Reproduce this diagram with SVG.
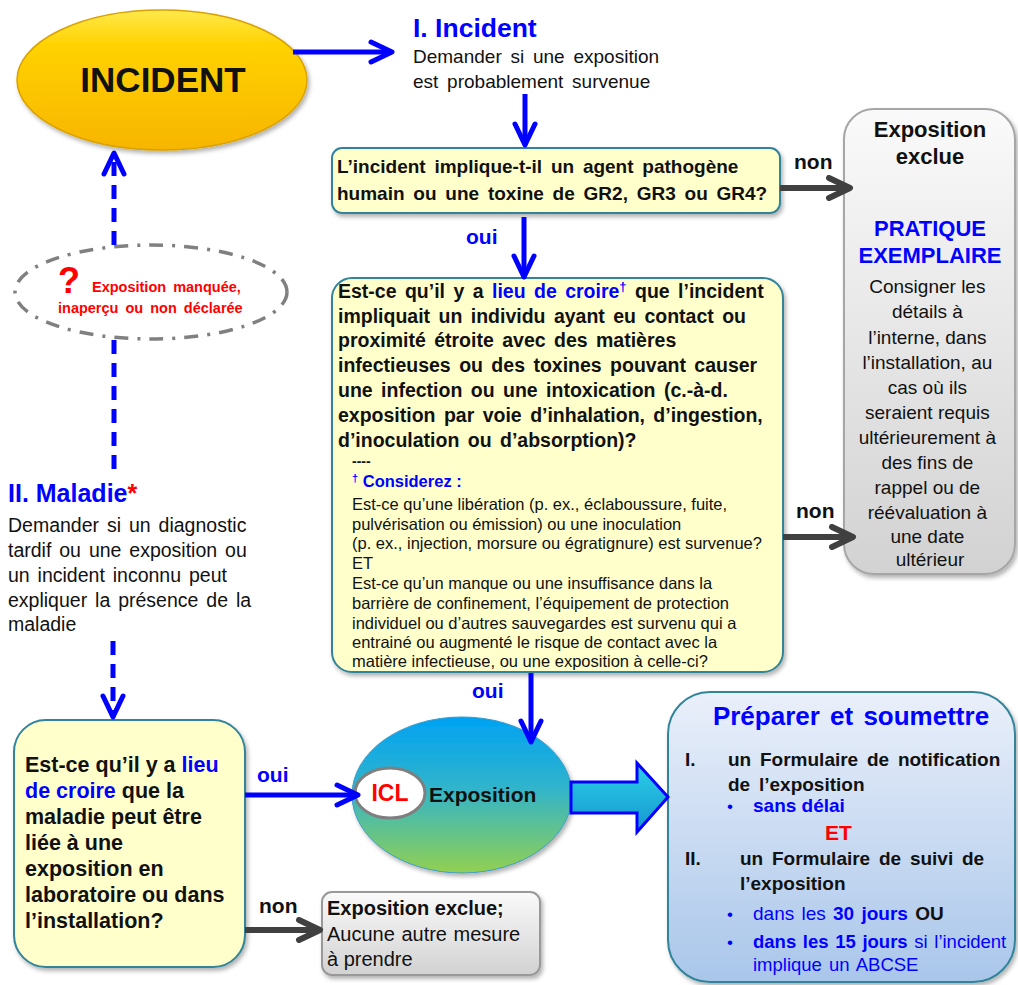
<svg xmlns="http://www.w3.org/2000/svg" width="1018" height="985" viewBox="0 0 1018 985">
<defs>
<style>
text{font-family:"Liberation Sans",Arial,sans-serif;fill:#111}
.b{font-weight:bold}
.blue{fill:#0000FF}
.red{fill:#FF0000}
.yb{fill:#FFFFCC;stroke:#31849B;stroke-width:2}
.conB{stroke:#0000FF;stroke-width:5;fill:none}
.conG{stroke:#404040;stroke-width:6;fill:none}
.dash{stroke-dasharray:14 9}
</style>
<linearGradient id="gInc" x1="0" y1="0" x2="0" y2="1">
<stop offset="0" stop-color="#FFE94A"/><stop offset="0.25" stop-color="#FFD200"/><stop offset="1" stop-color="#F7B500"/>
</linearGradient>
<linearGradient id="gExp" x1="0" y1="0" x2="0" y2="1">
<stop offset="0" stop-color="#00A2F2"/><stop offset="0.45" stop-color="#30B4CC"/><stop offset="1" stop-color="#92D050"/>
</linearGradient>
<linearGradient id="gGray" x1="0" y1="0" x2="0" y2="1">
<stop offset="0" stop-color="#FAFAFA"/><stop offset="1" stop-color="#D2D2D2"/>
</linearGradient>
<linearGradient id="gBlue" x1="0" y1="0" x2="0" y2="1">
<stop offset="0" stop-color="#EAF0FA"/><stop offset="1" stop-color="#A9C6EA"/>
</linearGradient>
<linearGradient id="gArr" x1="0" y1="0" x2="0" y2="1">
<stop offset="0" stop-color="#2AD0E8"/><stop offset="1" stop-color="#1696CF"/>
</linearGradient>
<filter id="sh" x="-10%" y="-10%" width="125%" height="125%">
<feDropShadow dx="2" dy="3" stdDeviation="2" flood-color="#000" flood-opacity="0.3"/>
</filter>
<marker id="mB" viewBox="0 0 30 26" refX="26" refY="13" markerWidth="30" markerHeight="26" markerUnits="userSpaceOnUse" orient="auto">
<path d="M5,3 L26,13 L5,23" fill="none" stroke="#0000FF" stroke-width="5" stroke-linecap="round" stroke-linejoin="round" stroke-dasharray="none"/>
</marker>
<marker id="mG" viewBox="0 0 30 26" refX="26" refY="13" markerWidth="30" markerHeight="26" markerUnits="userSpaceOnUse" orient="auto">
<path d="M5,3 L26,13 L5,23" fill="none" stroke="#404040" stroke-width="6" stroke-linecap="round" stroke-linejoin="round"/>
</marker>
</defs>
<rect width="1018" height="985" fill="#FFFFFF"/>

<g id="incident">
<ellipse cx="162" cy="80" rx="145" ry="70" fill="url(#gInc)" stroke="#D9A200" stroke-width="1.5" filter="url(#sh)"/>
<text x="163" y="92" class="b" font-size="35" text-anchor="middle">INCIDENT</text>
</g>

<g id="incident-label">
<text x="413" y="37" class="b blue" font-size="26.5">I. Incident</text>
<text x="413" y="63" font-size="19" word-spacing="3.5">Demander si une exposition</text>
<text x="413" y="88" font-size="19" word-spacing="3.5">est probablement survenue</text>
</g>

<g id="q1">
<rect x="332" y="148" width="448" height="65" rx="10" class="yb" filter="url(#sh)"/>
<text class="b" font-size="19" word-spacing="3.5"><tspan x="337" y="173">L’incident implique-t-il un agent pathogène</tspan><tspan x="337" y="200">humain ou une toxine de GR2, GR3 ou GR4?</tspan></text>
</g>

<g id="q2">
<rect x="332" y="278" width="451" height="394" rx="20" class="yb" filter="url(#sh)"/>
<text class="b" font-size="19.5" word-spacing="3">
<tspan x="338" y="298">Est-ce qu’il y a <tspan class="blue">lieu de croire</tspan><tspan class="blue" font-size="13" dy="-7">†</tspan><tspan dy="7"> que l’incident</tspan></tspan>
<tspan x="338" y="323">impliquait un individu ayant eu contact ou</tspan>
<tspan x="338" y="347">proximité étroite avec des matières</tspan>
<tspan x="338" y="372">infectieuses ou des toxines pouvant causer</tspan>
<tspan x="338" y="397">une infection ou une intoxication (c.-à-d.</tspan>
<tspan x="338" y="422">exposition par voie d’inhalation, d’ingestion,</tspan>
<tspan x="338" y="447">d’inoculation ou d’absorption)?</tspan>
</text>
<text x="352" y="466" class="b" font-size="14">----</text>
<text x="352" y="487" class="b blue" font-size="16.5"><tspan font-size="11" dy="-5">†</tspan><tspan dy="5"> Considerez :</tspan></text>
<text font-size="16.5">
<tspan x="352" y="510">Est-ce qu’une libération (p. ex., éclaboussure, fuite,</tspan>
<tspan x="352" y="530">pulvérisation ou émission) ou une inoculation</tspan>
<tspan x="352" y="549">(p. ex., injection, morsure ou égratignure) est survenue?</tspan>
<tspan x="352" y="569">ET</tspan>
<tspan x="352" y="589">Est-ce qu’un manque ou une insuffisance dans la</tspan>
<tspan x="352" y="609">barrière de confinement, l’équipement de protection</tspan>
<tspan x="352" y="629">individuel ou d’autres sauvegardes est survenu qui a</tspan>
<tspan x="352" y="648">entrainé ou augmenté le risque de contact avec la</tspan>
<tspan x="352" y="667">matière infectieuse, ou une exposition à celle-ci?</tspan>
</text>
</g>

<g id="excluded">
<rect x="844" y="109" width="171" height="465" rx="30" fill="url(#gGray)" stroke="#A6A6A6" stroke-width="2" filter="url(#sh)"/>
<g text-anchor="middle">
<text x="930" y="137" class="b" font-size="22">Exposition</text>
<text x="930" y="164" class="b" font-size="22">exclue</text>
<text x="930" y="236" class="b blue" font-size="22">PRATIQUE</text>
<text x="930" y="263" class="b blue" font-size="22">EXEMPLAIRE</text>
<text font-size="19">
<tspan x="930" y="293">Consigner les</tspan>
<tspan x="930" y="318">détails à</tspan>
<tspan x="930" y="344">l’interne, dans</tspan>
<tspan x="930" y="369">l’installation, au</tspan>
<tspan x="930" y="394">cas où ils</tspan>
<tspan x="930" y="419">seraient requis</tspan>
<tspan x="930" y="444">ultérieurement à</tspan>
<tspan x="930" y="469">des fins de</tspan>
<tspan x="930" y="494">rappel ou de</tspan>
<tspan x="930" y="519">réévaluation à</tspan>
<tspan x="930" y="543">une date</tspan>
<tspan x="930" y="566">ultérieur</tspan>
</text>
</g>
</g>

<g id="missed">
<ellipse cx="151" cy="292" rx="136" ry="47" fill="#FFFFFF" stroke="#808080" stroke-width="3.5" stroke-dasharray="14 9 3 9"/>
<text x="58" y="293" class="b red" font-size="36">?</text>
<text x="92" y="292" class="b red" font-size="14.5" word-spacing="3">Exposition manquée,</text>
<text x="58" y="313" class="b red" font-size="14.5" word-spacing="3">inaperçu ou non déclarée</text>
</g>

<g id="maladie-label">
<text x="8" y="502" class="b blue" font-size="25">II. Maladie<tspan class="red">*</tspan></text>
<text font-size="19.5" word-spacing="2.5">
<tspan x="8" y="532">Demander si un diagnostic</tspan>
<tspan x="8" y="557">tardif ou une exposition ou</tspan>
<tspan x="8" y="582">un incident inconnu peut</tspan>
<tspan x="8" y="607">expliquer la présence de la</tspan>
<tspan x="8" y="631">maladie</tspan>
</text>
</g>

<g id="q3">
<rect x="14" y="720" width="231" height="247" rx="32" class="yb" filter="url(#sh)"/>
<text class="b" font-size="21.5">
<tspan x="25" y="772">Est-ce qu’il y a <tspan class="blue">lieu</tspan></tspan>
<tspan x="25" y="798"><tspan class="blue">de croire</tspan> que la</tspan>
<tspan x="25" y="824">maladie peut être</tspan>
<tspan x="25" y="850">liée à une</tspan>
<tspan x="25" y="876">exposition en</tspan>
<tspan x="25" y="902">laboratoire ou dans</tspan>
<tspan x="25" y="928">l’installation?</tspan>
</text>
</g>

<g id="exposition">
<ellipse cx="462" cy="795" rx="110" ry="78" fill="url(#gExp)" stroke="#3C9BC8" stroke-width="1" filter="url(#sh)"/>
<ellipse cx="390" cy="793" rx="35" ry="25" fill="#FFFFFF" stroke="#7F7F7F" stroke-width="3"/>
<text x="390" y="801" class="b red" font-size="23" text-anchor="middle">ICL</text>
<text x="429" y="802" class="b" font-size="21">Exposition</text>
</g>

<g id="excluded2">
<rect x="322" y="892" width="218" height="83" rx="10" fill="url(#gGray)" stroke="#999999" stroke-width="2" filter="url(#sh)"/>
<text x="327" y="915" class="b" font-size="20">Exposition exclue;</text>
<text x="327" y="941" font-size="20" word-spacing="1">Aucune autre mesure</text>
<text x="327" y="966" font-size="20">à prendre</text>
</g>

<g id="submit">
<rect x="668" y="692" width="347" height="290" rx="42" fill="url(#gBlue)" stroke="#31849B" stroke-width="2" filter="url(#sh)"/>
<text x="851" y="725" class="b blue" font-size="26" text-anchor="middle" word-spacing="3">Préparer et soumettre</text>
<text class="b" font-size="19" word-spacing="3.5">
<tspan x="685" y="766">I.</tspan>
<tspan x="728" y="766">un Formulaire de notification</tspan>
<tspan x="728" y="791">de l’exposition</tspan>
</text>
<text x="727" y="812" class="blue" font-size="17">•</text>
<text x="753" y="812" class="b blue" font-size="19">sans délai</text>
<text x="825" y="840" class="b red" font-size="21">ET</text>
<text class="b" font-size="19" word-spacing="3.5">
<tspan x="685" y="865">II.</tspan>
<tspan x="740" y="865">un Formulaire de suivi de</tspan>
<tspan x="740" y="890">l’exposition</tspan>
</text>
<text x="727" y="920" class="blue" font-size="17">•</text>
<text x="753" y="920" class="blue" font-size="19" word-spacing="2">dans les <tspan class="b">30 jours</tspan> <tspan class="b" fill="#111">OU</tspan></text>
<text x="727" y="948" class="blue" font-size="17">•</text>
<text x="753" y="948" class="blue" font-size="18.5" word-spacing="1.5"><tspan class="b">dans les 15 jours</tspan> si l’incident</text>
<text x="753" y="971" class="blue" font-size="18.5" word-spacing="2">implique un ABCSE</text>
</g>

<g id="connectors">
<line x1="293" y1="52" x2="392" y2="52" class="conB" marker-end="url(#mB)"/>
<line x1="525" y1="94" x2="525" y2="145" class="conB" marker-end="url(#mB)"/>
<line x1="524" y1="217" x2="524" y2="277" class="conB" marker-end="url(#mB)"/>
<text x="466" y="244" class="b blue" font-size="21">oui</text>
<line x1="780" y1="188" x2="850" y2="188" class="conG" marker-end="url(#mG)"/>
<text x="794" y="169" class="b" font-size="21">non</text>
<line x1="783" y1="537" x2="853" y2="537" class="conG" marker-end="url(#mG)"/>
<text x="796" y="518" class="b" font-size="21">non</text>
<line x1="114" y1="245" x2="114" y2="153" class="conB dash" marker-end="url(#mB)"/>
<line x1="114" y1="340" x2="114" y2="478" class="conB dash"/>
<line x1="113" y1="641" x2="113" y2="717" class="conB dash" marker-end="url(#mB)"/>
<line x1="531" y1="673" x2="531" y2="742" class="conB" marker-end="url(#mB)"/>
<text x="472" y="698" class="b blue" font-size="21">oui</text>
<line x1="245" y1="795" x2="358" y2="795" class="conB" marker-end="url(#mB)"/>
<text x="257" y="782" class="b blue" font-size="21">oui</text>
<line x1="245" y1="930" x2="320" y2="930" class="conG" marker-end="url(#mG)"/>
<text x="259" y="913" class="b" font-size="21">non</text>
<path d="M571,782 L637,782 L637,763 L668,797 L637,832 L637,813 L571,813 Z" fill="url(#gArr)" stroke="#0000FF" stroke-width="3" stroke-linejoin="miter"/>
</g>
</svg>
